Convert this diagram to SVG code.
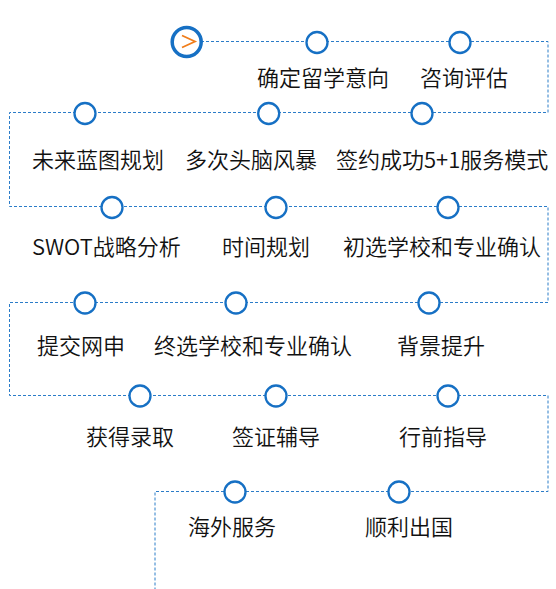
<svg xmlns="http://www.w3.org/2000/svg" width="556" height="589" viewBox="0 0 556 589">
<style>
.c{fill:#fff;stroke:#1670c4;stroke-width:2.3}
.t{font-family:"Noto Sans CJK SC","Noto Sans",sans-serif;font-size:22px;font-weight:350;fill:#111}
.l{fill:none;stroke:#2b7cc8;stroke-width:1;stroke-dasharray:3 2}
</style>
<rect width="556" height="589" fill="#fff"/>
<g id="connectors">
<polyline class="l" points="201,41.5 548,41.5 548,112.5 9.5,112.5 9.5,206.5 548,206.5 548,302.5 9.5,302.5 9.5,395.5 548,395.5 548,491.5 155,491.5 155,589"/>
</g>
<g id="start">
<circle cx="186.7" cy="42" r="14.5" fill="#fff" stroke="#1670c4" stroke-width="3.5"/>
<polyline points="182,35.5 195,41.5 182,47.5" fill="none" stroke="#f07d1a" stroke-width="1.8"/>
</g>
<g id="n1"><circle class="c" cx="317" cy="42.5" r="10.5"/><text class="t" x="257" y="86">确定留学意向</text></g>
<g id="n2"><circle class="c" cx="460" cy="42.5" r="10.5"/><text class="t" x="420" y="86">咨询评估</text></g>
<g id="n3"><circle class="c" cx="85" cy="113.5" r="10.5"/><text class="t" x="32" y="168">未来蓝图规划</text></g>
<g id="n4"><circle class="c" cx="268.7" cy="113.5" r="10.5"/><text class="t" x="185" y="168">多次头脑风暴</text></g>
<g id="n5"><circle class="c" cx="422" cy="113.5" r="10.5"/><text class="t" x="336" y="168">签约成功5+1服务模式</text></g>
<g id="n6"><circle class="c" cx="112" cy="207.5" r="10.5"/><text class="t" x="32" y="255">SWOT战略分析</text></g>
<g id="n7"><circle class="c" cx="276" cy="207.5" r="10.5"/><text class="t" x="222" y="255">时间规划</text></g>
<g id="n8"><circle class="c" cx="448" cy="207.5" r="10.5"/><text class="t" x="343" y="255">初选学校和专业确认</text></g>
<g id="n9"><circle class="c" cx="85" cy="303" r="10.5"/><text class="t" x="37" y="354">提交网申</text></g>
<g id="n10"><circle class="c" cx="236" cy="303" r="10.5"/><text class="t" x="154" y="354">终选学校和专业确认</text></g>
<g id="n11"><circle class="c" cx="429" cy="303" r="10.5"/><text class="t" x="397" y="354">背景提升</text></g>
<g id="n12"><circle class="c" cx="140" cy="396" r="10.5"/><text class="t" x="86" y="445">获得录取</text></g>
<g id="n13"><circle class="c" cx="276" cy="396" r="10.5"/><text class="t" x="232" y="445">签证辅导</text></g>
<g id="n14"><circle class="c" cx="448" cy="396" r="10.5"/><text class="t" x="399" y="445">行前指导</text></g>
<g id="n15"><circle class="c" cx="235" cy="492" r="10.5"/><text class="t" x="188" y="535">海外服务</text></g>
<g id="n16"><circle class="c" cx="399" cy="492" r="10.5"/><text class="t" x="365" y="535">顺利出国</text></g>
</svg>
